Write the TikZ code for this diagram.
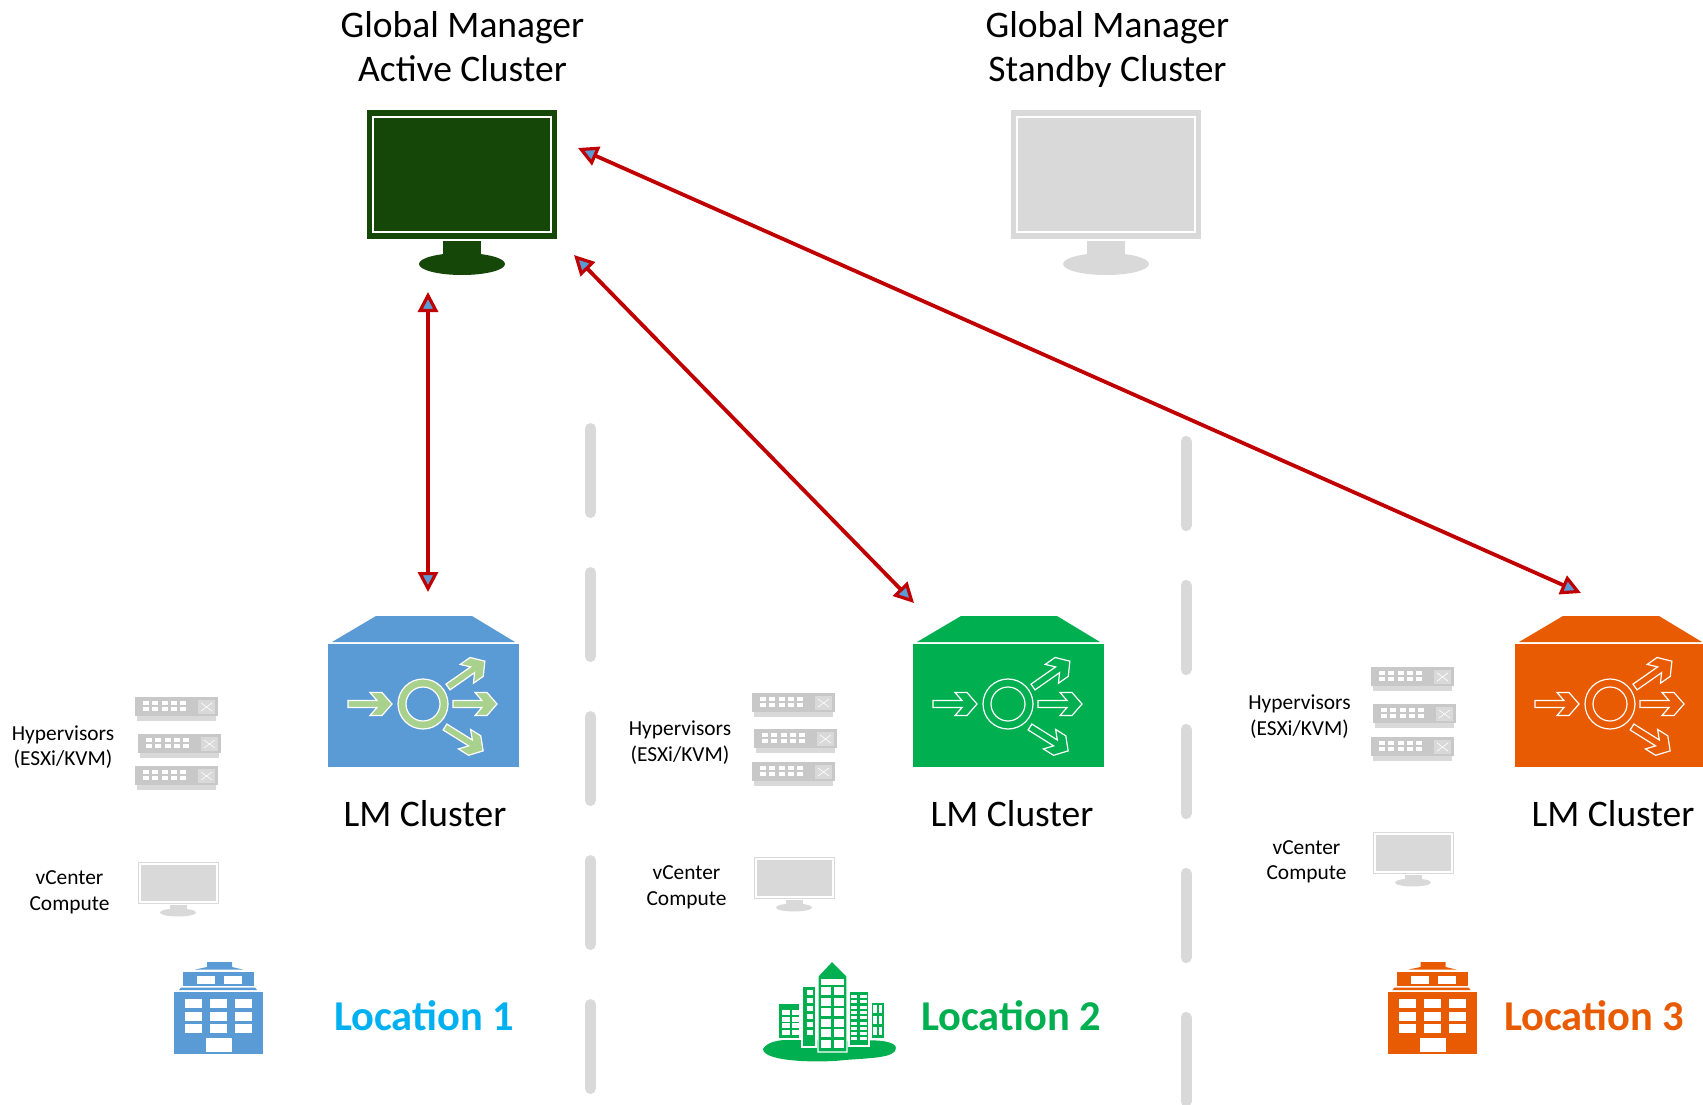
\documentclass[tikz,border=0pt]{standalone}
\usepackage{fontspec}
\setmainfont{Carlito}
\usetikzlibrary{arrows.meta}
\definecolor{myDarkGreen}{RGB}{20,71,8}
\definecolor{myGray}{RGB}{217,217,217}
\definecolor{myPort}{RGB}{200,200,200}
\definecolor{myBlue}{RGB}{91,155,213}
\definecolor{myGreen}{RGB}{0,176,80}
\definecolor{myOrange}{RGB}{232,91,2}
\definecolor{myLime}{RGB}{169,209,142}
\definecolor{mySky}{RGB}{0,176,240}
\definecolor{myRed}{RGB}{192,0,0}
\tikzset{
	bigtext/.style={font=\fontsize{37.5}{44}\selectfont,align=center},
	smalltext/.style={font=\fontsize{21.4}{25.5}\selectfont,align=center},
	loctext/.style={font=\fontsize{42.5}{50}\selectfont\bfseries},
	redlink/.style={myRed,line width=3.8pt,
		{Triangle[length=20pt,width=20pt,line width=3.2pt,fill=myBlue]}-{Triangle[length=20pt,width=20pt,line width=3.2pt,fill=myBlue]}},
	sitesplit/.style={myGray,line width=11pt,line cap=round,dash pattern=on 84pt off 60pt},
	flowarrow/.style={white,line width=1.2pt,line join=miter},
	pics/bigscreen/.style={code={
		\fill[#1] (0,0) rectangle (190,129);
		\draw[white,line width=1.6pt] (6,7) rectangle (184,122);
		\fill[#1] (76,131) rectangle (114,152);
		\fill[#1] (95,154) ellipse [x radius=43,y radius=11];
	}},
	pics/smallscreen/.style={code={
		\draw[myGray,line width=1pt] (0,0) rectangle (80,41);
		\fill[myGray] (2.5,2.5) rectangle (77.5,38.5);
		\fill[myGray] (32,43) rectangle (49,49);
		\fill[myGray] (40,50.5) ellipse [x radius=18,y radius=4];
	}},
	pics/hostbox/.style={code={
		\fill[myGray] (2,19) rectangle (81,25);
		\fill[myPort] (0,1) rectangle (83,20);
		\fill[myGray] (63,4) rectangle (80,18);
		\foreach \x in {0,...,4}{
			\fill[white] (8+\x*9.3,5) rectangle +(6,3.5);
			\fill[white] (8+\x*9.3,11) rectangle +(6,3.5);
		}
		\draw[white,line width=.6pt] (66,7) -- (77,15) (66,15) -- (77,7);
	}},
	pics/flowhead/.style n args={2}{code={
		\filldraw[flowarrow,fill=#1] (0,-3.5) -- (#2-15,-3.5) -- (#2-22,-11.5) -- (#2-10,-11.5) -- (#2,0)
			-- (#2-10,11.5) -- (#2-22,11.5) -- (#2-15,3.5) -- (0,3.5) -- cycle;
	}},
	pics/lmbox/.style n args={2}{code={
		\fill[#1] (4,-2) -- (48,-28) -- (144,-28) -- (187,-2) -- cycle;
		\fill[#1] (0,0) rectangle (191,123);
		% ring in the middle
		\filldraw[flowarrow,fill=#2,even odd rule] (95,60) circle (25) (95,60) circle (17);
		% one way in, three ways out
		\pic at (20,60) {flowhead={#2}{44}};
		\pic at (125,60) {flowhead={#2}{44}};
		\pic[rotate=35] at (120,43) {flowhead={#2}{45}};
		\pic[rotate=-32] at (117,83) {flowhead={#2}{45}};
	}},
	pics/officeblock/.style={code={
		\fill[#1] (0,0) rectangle (89,62);
		\fill[#1] (5,-2) -- (7,-4.5) -- (81,-4.5) -- (83,-2) -- cycle;
		\fill[#1] (9,-20) rectangle (80,-6);
		\fill[#1] (21,-22.5) -- (33,-25) -- (33,-30) -- (58,-30) -- (58,-25) -- (69,-22.5) -- cycle;
		% windows
		\foreach \x in {11,36,61}{
			\foreach \y in {7,20,32}{
				\fill[white] (\x,\y) rectangle +(17,8.5);
			}
		}
		\foreach \x in {23,50}{
			\fill[white] (\x,-16) rectangle +(18,8);
		}
		\fill[white] (32,46) rectangle (58,60);
	}},
	pics/citytowers/.style={code={
		\fill[#1] (763,1049) .. controls (768,1040) and (785,1039) .. (800,1040) -- (860,1041)
			.. controls (880,1039) and (896,1042) .. (896,1048)
			.. controls (896,1058) and (870,1058) .. (845,1060)
			.. controls (820,1063) and (763,1062) .. (763,1049) -- cycle;
		\fill[#1,draw=white,line width=1.2pt] (778,1003) rectangle (800,1039);
		\fill[#1,draw=white,line width=1.2pt] (802,986) rectangle (816,1047);
		\fill[#1,draw=white,line width=1.2pt] (849,991) rectangle (869,1046);
		\fill[#1,draw=white,line width=1.2pt] (871,1002) rectangle (885,1039);
		\fill[#1,draw=white,line width=1.2pt] (818,976) -- (832,961) -- (847,976) -- (847,1052) -- (818,1052) -- cycle;
		% windows
		\fill[white] (821,979) rectangle (844,985);
		\foreach \y in {987,997.5,...,1041}{
			\fill[white] (821,\y) rectangle +(10,8);
			\fill[white] (834,\y) rectangle +(10,8);
		}
		\foreach \y in {990,998,...,1031}{
			\fill[white] (807,\y) rectangle +(6,5);
		}
		\foreach \y in {1010,1016.5,...,1030}{
			\fill[white] (782,\y) rectangle +(8,5);
			\fill[white] (792,\y) rectangle +(7,5);
		}
		\foreach \y in {995,1000.3,...,1040}{
			\fill[white] (851,\y) rectangle +(6,3);
			\fill[white] (860,\y) rectangle +(7,3);
		}
		\foreach \y in {1005,1016,1027}{
			\fill[white] (873,\y) rectangle +(4,8);
			\fill[white] (879,\y) rectangle +(3,8);
		}
	}},
}
\begin{document}
\begin{tikzpicture}[x=1pt,y=-1pt]
	\useasboundingbox (0,0) rectangle (1703,1105);
	
	% site separators
	\coordinate (splitA1) at (590.5,428.5);
	\coordinate (splitA2) at (590.5,1092);
	\coordinate (splitB1) at (1186,441.5);
	\coordinate (splitB2) at (1186,1120);
	\draw[sitesplit] (splitA1) -- (splitA2);
	\draw[sitesplit] (splitB1) -- (splitB2);
	
	% global manager clusters
	\node[bigtext] (gmActive) at (462.5,46.5) {Global Manager\\Active Cluster};
	\node[bigtext] (gmStandby) at (1107.5,49.5) {Global Manager\\Standby Cluster};
	\pic at (367,110) {bigscreen=myDarkGreen};
	\pic at (1011,110) {bigscreen=myGray};
	
	% local manager clusters
	\pic at (328,644) {lmbox={myBlue}{myLime}};
	\pic at (913,644) {lmbox={myGreen}{myGreen}};
	\pic at (1515,644) {lmbox={myOrange}{myOrange}};
	\node[bigtext] (lmOne) at (425,814) {LM Cluster};
	\node[bigtext] (lmTwo) at (1012,814) {LM Cluster};
	\node[bigtext] (lmThree) at (1613,814) {LM Cluster};
	
	% hypervisors
	\foreach \x/\y in {135/696,138/733,135/765,752/692,754/728,752/761,1371/666,1373/703,1371/736}{
		\pic at (\x,\y) {hostbox};
	}
	\node[smalltext] (hvOne) at (63,747) {Hypervisors\\(ESXi/KVM)};
	\node[smalltext] (hvTwo) at (680,742.5) {Hypervisors\\(ESXi/KVM)};
	\node[smalltext] (hvThree) at (1299.5,716.5) {Hypervisors\\(ESXi/KVM)};
	
	% vcenter
	\pic at (138,862) {smallscreen};
	\pic at (754,857) {smallscreen};
	\pic at (1373,832) {smallscreen};
	\node[smalltext] (vcOne) at (69.5,892.5) {vCenter\\Compute};
	\node[smalltext] (vcTwo) at (686.5,887.5) {vCenter\\Compute};
	\node[smalltext] (vcThree) at (1306.5,862) {vCenter\\Compute};
	
	% locations
	\pic at (174,992) {officeblock=myBlue};
	\pic {citytowers=myGreen};
	\pic at (1387.5,992) {officeblock=myOrange};
	\node[loctext,mySky] (locOne) at (424,1016) {Location 1};
	\node[loctext,myGreen] (locTwo) at (1011,1016) {Location 2};
	\node[loctext,myOrange] (locThree) at (1594,1016) {Location 3};
	
	% links from active cluster to each site
	\coordinate (linkTopA) at (428,292);
	\coordinate (linkTopB) at (574,255);
	\coordinate (linkTopC) at (578,148);
	\coordinate (linkEndA) at (428,592);
	\coordinate (linkEndB) at (914,603);
	\coordinate (linkEndC) at (1581,593);
	\draw[redlink] (linkTopA) -- (linkEndA);
	\draw[redlink] (linkTopB) -- (linkEndB);
	\draw[redlink] (linkTopC) -- (linkEndC);
\end{tikzpicture}
\end{document}
